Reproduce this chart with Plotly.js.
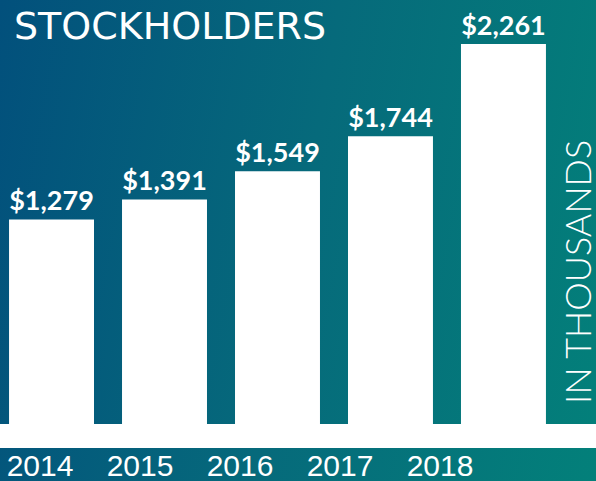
<!DOCTYPE html>
<html>
<head>
<meta charset="utf-8">
<script src="https://cdn.plot.ly/plotly-3.0.1.min.js"></script>
<style>
  html, body { margin: 0; padding: 0; }
  #chart { width: 596px; height: 481px;
    background: linear-gradient(100deg, #02507c 0%, #066a7b 50%, #03807a 100%); }
</style>
</head>
<body>
<div id="chart"></div>
<script>
const years = ["2014", "2015", "2016", "2017", "2018"];
const stockholders = [1279, 1391, 1549, 1744, 2261];
const valueLabels = ["$1,279", "$1,391", "$1,549", "$1,744", "$2,261"];
const chartTitle = "STOCKHOLDERS";
const unitLabel = "IN THOUSANDS";

const bars = {
  type: "bar",
  x: years,
  y: stockholders,
  text: valueLabels,
  textposition: "outside",
  constraintext: "none",
  textfont: { family: "Lato, 'Open Sans', sans-serif", size: 27, color: "#ffffff", weight: 700 },
  marker: { color: "#ffffff", line: { width: 0 } },
  hoverinfo: "skip",
  cliponaxis: false
};

// invisible helper trace so the year axis (offset from the bars) is drawn
const yearAxisTrace = {
  type: "scatter",
  mode: "none",
  x: years.map((_, i) => i),
  y: stockholders,
  xaxis: "x2",
  yaxis: "y",
  hoverinfo: "skip",
  showlegend: false
};

const annotations = [{
  xref: "paper", yref: "paper", x: 577 / 596, y: (448 - 272) / 448,
  text: unitLabel, textangle: -90, showarrow: false,
  xanchor: "center", yanchor: "middle",
  font: { family: "Lato, 'Open Sans', sans-serif", size: 36, color: "#ffffff", weight: 300 }
}];

const layout = {
  width: 596, height: 481,
  margin: { l: 0, r: 0, t: 0, b: 33, pad: 0 },
  paper_bgcolor: "rgba(0,0,0,0)",
  plot_bgcolor: "rgba(0,0,0,0)",
  showlegend: false,
  bargap: 0.248,
  title: {
    text: chartTitle,
    x: 14 / 596, xanchor: "left", xref: "container",
    y: 1 - 26 / 481, yanchor: "middle", yref: "container",
    font: { family: "'DejaVu Sans', sans-serif", size: 38, color: "#ffffff" }
  },
  xaxis: {
    type: "category",
    range: [-0.456, 4.819],
    showticklabels: false, showgrid: false, zeroline: false, showline: false,
    ticks: "", fixedrange: true
  },
  xaxis2: {
    overlaying: "x", anchor: "y", side: "bottom",
    range: [-0.4, 5.56],
    tickmode: "array", tickvals: years.map((_, i) => i), ticktext: years,
    showgrid: false, zeroline: false, showline: false, ticks: "",
    ticklabelstandoff: -3,
    tickfont: { family: "'Liberation Sans', Arial, sans-serif", size: 30, color: "#ffffff" }
  },
  yaxis: {
    range: [0, 2507],
    showticklabels: false, showgrid: false, zeroline: false, showline: false,
    ticks: "", fixedrange: true
  },
  shapes: [{
    type: "rect", xref: "paper", yref: "paper",
    x0: 0, x1: 1, y0: 0, y1: 24 / 448,
    fillcolor: "#ffffff", line: { width: 0 }, layer: "above"
  }],
  annotations: annotations
};

Plotly.newPlot("chart", [bars, yearAxisTrace], layout, { displayModeBar: false, staticPlot: true });
</script>
</body>
</html>
